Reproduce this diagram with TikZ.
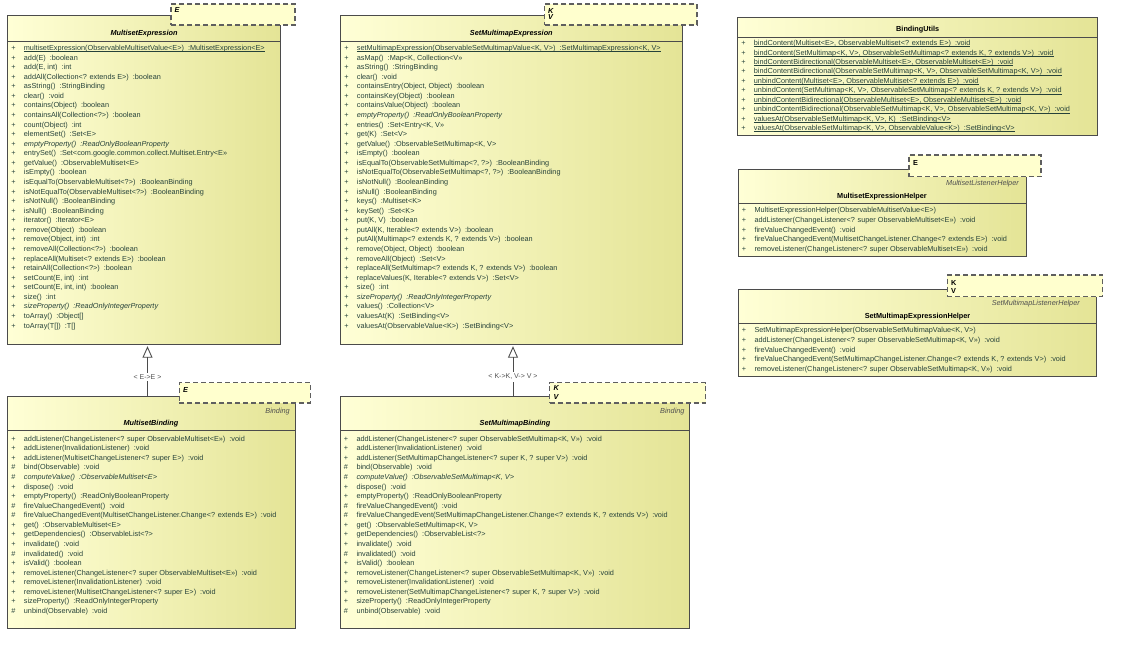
\documentclass[tikz,border=0pt]{standalone}
\usepackage{fontspec}
\setmainfont{Liberation Sans}
\usetikzlibrary{arrows.meta}
\definecolor{fillL}{RGB}{255,255,214}
\definecolor{fillM}{RGB}{250,250,195}
\definecolor{fillR}{RGB}{228,228,150}
\definecolor{tmplfill}{RGB}{255,255,206}
\definecolor{bordc}{RGB}{75,75,75}
\definecolor{dashc}{RGB}{95,95,95}
\definecolor{membc}{RGB}{38,66,58}
\definecolor{lblc}{RGB}{80,80,80}
\newcommand{\pub}{\makebox[8pt][c]{+}\hspace{6.5pt}}
\newcommand{\pro}{\makebox[8pt][c]{\#}\hspace{6.5pt}}
\newcommand{\mrows}[1]{\begin{tabular}[t]{@{}l@{}}#1\end{tabular}}
\newcommand{\uln}[1]{\setbox0\hbox{#1}\rlap{\rule[-1.3pt]{\wd0}{0.5pt}}\box0}
\tikzset{
  classbox/.style={draw=bordc, line width=1pt, left color=fillL, middle color=fillM, right color=fillR, anchor=north west, inner sep=0pt, outer sep=0pt},
  tmplbox/.style={draw=dashc, line width=1.1pt, dash pattern=on 5pt off 3pt, fill=tmplfill, anchor=north west, inner sep=0pt, outer sep=0pt},
  ctitle/.style={font=\fontsize{7.3}{9}\selectfont\bfseries\itshape, anchor=base, inner sep=0pt},
  htitle/.style={font=\fontsize{7.3}{9}\selectfont\bfseries, anchor=base, inner sep=0pt},
  members/.style={font=\fontsize{7.3}{9.57}\selectfont, text=membc, anchor=base west, inner sep=0pt},
  umembers/.style={font=\fontsize{7.3}{9.45}\selectfont, text=membc, anchor=base west, inner sep=0pt},
  tparam/.style={font=\fontsize{7.3}{8}\selectfont\bfseries\itshape, anchor=base west, inner sep=0pt},
  tparamu/.style={font=\fontsize{7.3}{8}\selectfont\bfseries, anchor=base west, inner sep=0pt},
  stereo/.style={font=\fontsize{7.3}{9}\selectfont\itshape, text=lblc, anchor=base east, inner sep=0pt},
  sepline/.style={draw=bordc, line width=0.9pt},
  inherit/.style={draw=bordc, line width=0.9pt, shorten >=1.5pt, -{Triangle[open, length=11.5pt, width=10pt, line width=0.9pt]}},
  inhlabel/.style={font=\fontsize{7}{8}\selectfont, text=lblc, fill=white, inner sep=2pt}
}
\begin{document}
\begin{tikzpicture}[x=1pt,y=-1pt]
\useasboundingbox[fill=white] (0,0) rectangle (1141,656);

% ---------------- MultisetExpression ----------------
\node[classbox, minimum width=272.6pt, minimum height=329pt] (mexpr) at (7.7,15.7) {};
\node[tmplbox, minimum width=124pt, minimum height=21pt] (mexprT) at (171,4) {};
\node[tparam] (mexprE) at (174.5,12.6) {E};
\node[ctitle] (mexprN) at (144,35) {MultisetExpression};
\draw[sepline] ([yshift=-25.6pt]mexpr.north west) -- ([yshift=-25.6pt]mexpr.north east);
\node[members] (mexprOps) at (9.2,50.5) {\mrows{%
\pub\uln{multisetExpression(ObservableMultisetValue<E>)~~:MultisetExpression<E>}\\
\pub add(E)~~:boolean\\
\pub add(E, int)~~:int\\
\pub addAll(Collection<? extends E>)~~:boolean\\
\pub asString()~~:StringBinding\\
\pub clear()~~:void\\
\pub contains(Object)~~:boolean\\
\pub containsAll(Collection<?>)~~:boolean\\
\pub count(Object)~~:int\\
\pub elementSet()~~:Set<E>\\
\pub \textit{emptyProperty()~~:ReadOnlyBooleanProperty}\\
\pub entrySet()~~:Set<com.google.common.collect.Multiset.Entry<E>>\\
\pub getValue()~~:ObservableMultiset<E>\\
\pub isEmpty()~~:boolean\\
\pub isEqualTo(ObservableMultiset<?>)~~:BooleanBinding\\
\pub isNotEqualTo(ObservableMultiset<?>)~~:BooleanBinding\\
\pub isNotNull()~~:BooleanBinding\\
\pub isNull()~~:BooleanBinding\\
\pub iterator()~~:Iterator<E>\\
\pub remove(Object)~~:boolean\\
\pub remove(Object, int)~~:int\\
\pub removeAll(Collection<?>)~~:boolean\\
\pub replaceAll(Multiset<? extends E>)~~:boolean\\
\pub retainAll(Collection<?>)~~:boolean\\
\pub setCount(E, int)~~:int\\
\pub setCount(E, int, int)~~:boolean\\
\pub size()~~:int\\
\pub \textit{sizeProperty()~~:ReadOnlyIntegerProperty}\\
\pub toArray()~~:Object[]\\
\pub toArray(T[])~~:T[]}};

% ---------------- SetMultimapExpression ----------------
\node[classbox, minimum width=341.3pt, minimum height=329pt] (smexpr) at (340.7,15.7) {};
\node[tmplbox, minimum width=152.3pt, minimum height=21pt] (smexprT) at (544.7,4) {};
\node[tparam] (smexprK) at (548,13.3) {K};
\node[tparam] (smexprV) at (548,19.5) {V};
\node[ctitle] (smexprN) at (511.3,35) {SetMultimapExpression};
\draw[sepline] ([yshift=-25.6pt]smexpr.north west) -- ([yshift=-25.6pt]smexpr.north east);
\node[members] (smexprOps) at (342.2,50.5) {\mrows{%
\pub\uln{setMultimapExpression(ObservableSetMultimapValue<K, V>)~~:SetMultimapExpression<K, V>}\\
\pub asMap()~~:Map<K, Collection<V>>\\
\pub asString()~~:StringBinding\\
\pub clear()~~:void\\
\pub containsEntry(Object, Object)~~:boolean\\
\pub containsKey(Object)~~:boolean\\
\pub containsValue(Object)~~:boolean\\
\pub \textit{emptyProperty()~~:ReadOnlyBooleanProperty}\\
\pub entries()~~:Set<Entry<K, V>>\\
\pub get(K)~~:Set<V>\\
\pub getValue()~~:ObservableSetMultimap<K, V>\\
\pub isEmpty()~~:boolean\\
\pub isEqualTo(ObservableSetMultimap<?, ?>)~~:BooleanBinding\\
\pub isNotEqualTo(ObservableSetMultimap<?, ?>)~~:BooleanBinding\\
\pub isNotNull()~~:BooleanBinding\\
\pub isNull()~~:BooleanBinding\\
\pub keys()~~:Multiset<K>\\
\pub keySet()~~:Set<K>\\
\pub put(K, V)~~:boolean\\
\pub putAll(K, Iterable<? extends V>)~~:boolean\\
\pub putAll(Multimap<? extends K, ? extends V>)~~:boolean\\
\pub remove(Object, Object)~~:boolean\\
\pub removeAll(Object)~~:Set<V>\\
\pub replaceAll(SetMultimap<? extends K, ? extends V>)~~:boolean\\
\pub replaceValues(K, Iterable<? extends V>)~~:Set<V>\\
\pub size()~~:int\\
\pub \textit{sizeProperty()~~:ReadOnlyIntegerProperty}\\
\pub values()~~:Collection<V>\\
\pub valuesAt(K)~~:SetBinding<V>\\
\pub valuesAt(ObservableValue<K>)~~:SetBinding<V>}};

% ---------------- MultisetBinding ----------------
\node[classbox, minimum width=287.3pt, minimum height=232pt] (mbind) at (7.7,396) {};
\node[tmplbox, minimum width=131pt, minimum height=20.3pt] (mbindT) at (179.3,382.7) {};
\node[tparam] (mbindE) at (182.8,392) {E};
\node[stereo] (mbindS) at (290,413.3) {Binding};
\node[ctitle] (mbindN) at (151,425.3) {MultisetBinding};
\draw[sepline] ([yshift=-34.7pt]mbind.north west) -- ([yshift=-34.7pt]mbind.north east);
\node[members] (mbindOps) at (9.2,441.2) {\mrows{%
\pub addListener(ChangeListener<? super ObservableMultiset<E>>)~~:void\\
\pub addListener(InvalidationListener)~~:void\\
\pub addListener(MultisetChangeListener<? super E>)~~:void\\
\pro bind(Observable)~~:void\\
\pro \textit{computeValue()~~:ObservableMultiset<E>}\\
\pub dispose()~~:void\\
\pub emptyProperty()~~:ReadOnlyBooleanProperty\\
\pro fireValueChangedEvent()~~:void\\
\pro fireValueChangedEvent(MultisetChangeListener.Change<? extends E>)~~:void\\
\pub get()~~:ObservableMultiset<E>\\
\pub getDependencies()~~:ObservableList<?>\\
\pub invalidate()~~:void\\
\pro invalidated()~~:void\\
\pub isValid()~~:boolean\\
\pub removeListener(ChangeListener<? super ObservableMultiset<E>>)~~:void\\
\pub removeListener(InvalidationListener)~~:void\\
\pub removeListener(MultisetChangeListener<? super E>)~~:void\\
\pub sizeProperty()~~:ReadOnlyIntegerProperty\\
\pro unbind(Observable)~~:void}};

% ---------------- SetMultimapBinding ----------------
\node[classbox, minimum width=349.4pt, minimum height=232pt] (smbind) at (340.3,396) {};
\node[tmplbox, minimum width=156pt, minimum height=20.3pt] (smbindT) at (549.7,382.7) {};
\node[tparam] (smbindK) at (553.4,390.6) {K};
\node[tparam] (smbindV) at (553.4,399.3) {V};
\node[stereo] (smbindS) at (684.7,413.3) {Binding};
\node[ctitle] (smbindN) at (515,425.3) {SetMultimapBinding};
\draw[sepline] ([yshift=-34.7pt]smbind.north west) -- ([yshift=-34.7pt]smbind.north east);
\node[members] (smbindOps) at (341.8,441.2) {\mrows{%
\pub addListener(ChangeListener<? super ObservableSetMultimap<K, V>>)~~:void\\
\pub addListener(InvalidationListener)~~:void\\
\pub addListener(SetMultimapChangeListener<? super K, ? super V>)~~:void\\
\pro bind(Observable)~~:void\\
\pro \textit{computeValue()~~:ObservableSetMultimap<K, V>}\\
\pub dispose()~~:void\\
\pub emptyProperty()~~:ReadOnlyBooleanProperty\\
\pro fireValueChangedEvent()~~:void\\
\pro fireValueChangedEvent(SetMultimapChangeListener.Change<? extends K, ? extends V>)~~:void\\
\pub get()~~:ObservableSetMultimap<K, V>\\
\pub getDependencies()~~:ObservableList<?>\\
\pub invalidate()~~:void\\
\pro invalidated()~~:void\\
\pub isValid()~~:boolean\\
\pub removeListener(ChangeListener<? super ObservableSetMultimap<K, V>>)~~:void\\
\pub removeListener(InvalidationListener)~~:void\\
\pub removeListener(SetMultimapChangeListener<? super K, ? super V>)~~:void\\
\pub sizeProperty()~~:ReadOnlyIntegerProperty\\
\pro unbind(Observable)~~:void}};

% ---------------- BindingUtils ----------------
\node[classbox, minimum width=360pt, minimum height=117.7pt] (butils) at (737.7,17.3) {};
\node[htitle] (butilsN) at (917.7,31) {BindingUtils};
\draw[sepline] ([yshift=-20pt]butils.north west) -- ([yshift=-20pt]butils.north east);
\node[umembers] (butilsOps) at (739.2,45.6) {\mrows{%
\pub\uln{bindContent(Multiset<E>, ObservableMultiset<? extends E>)~~:void}\\
\pub\uln{bindContent(SetMultimap<K, V>, ObservableSetMultimap<? extends K, ? extends V>)~~:void}\\
\pub\uln{bindContentBidirectional(ObservableMultiset<E>, ObservableMultiset<E>)~~:void}\\
\pub\uln{bindContentBidirectional(ObservableSetMultimap<K, V>, ObservableSetMultimap<K, V>)~~:void}\\
\pub\uln{unbindContent(Multiset<E>, ObservableMultiset<? extends E>)~~:void}\\
\pub\uln{unbindContent(SetMultimap<K, V>, ObservableSetMultimap<? extends K, ? extends V>)~~:void}\\
\pub\uln{unbindContentBidirectional(ObservableMultiset<E>, ObservableMultiset<E>)~~:void}\\
\pub\uln{unbindContentBidirectional(ObservableSetMultimap<K, V>, ObservableSetMultimap<K, V>)~~:void}\\
\pub\uln{valuesAt(ObservableSetMultimap<K, V>, K)~~:SetBinding<V>}\\
\pub\uln{valuesAt(ObservableSetMultimap<K, V>, ObservableValue<K>)~~:SetBinding<V>}}};

% ---------------- MultisetExpressionHelper ----------------
\node[classbox, minimum width=287.7pt, minimum height=87.4pt] (mhelper) at (738.3,169.3) {};
\node[tmplbox, minimum width=132pt, minimum height=21.7pt] (mhelperT) at (909,155) {};
\node[tparamu] (mhelperE) at (913,165.3) {E};
\node[stereo] (mhelperS) at (1019,185.9) {MultisetListenerHelper};
\node[htitle] (mhelperN) at (882,198.6) {MultisetExpressionHelper};
\draw[sepline] ([yshift=-34pt]mhelper.north west) -- ([yshift=-34pt]mhelper.north east);
\node[members] (mhelperOps) at (739.8,212.9) {\mrows{%
\pub MultisetExpressionHelper(ObservableMultisetValue<E>)\\
\pub addListener(ChangeListener<? super ObservableMultiset<E>>)~~:void\\
\pub fireValueChangedEvent()~~:void\\
\pub fireValueChangedEvent(MultisetChangeListener.Change<? extends E>)~~:void\\
\pub removeListener(ChangeListener<? super ObservableMultiset<E>>)~~:void}};

% ---------------- SetMultimapExpressionHelper ----------------
\node[classbox, minimum width=358.4pt, minimum height=87.4pt] (smhelper) at (738.3,289.3) {};
\node[tmplbox, minimum width=155.4pt, minimum height=21.7pt] (smhelperT) at (947.3,275) {};
\node[tparamu] (smhelperK) at (951,285.3) {K};
\node[tparamu] (smhelperV) at (951,293.5) {V};
\node[stereo] (smhelperS) at (1080,305.9) {SetMultimapListenerHelper};
\node[htitle] (smhelperN) at (917.5,318.6) {SetMultimapExpressionHelper};
\draw[sepline] ([yshift=-34pt]smhelper.north west) -- ([yshift=-34pt]smhelper.north east);
\node[members] (smhelperOps) at (739.8,332.9) {\mrows{%
\pub SetMultimapExpressionHelper(ObservableSetMultimapValue<K, V>)\\
\pub addListener(ChangeListener<? super ObservableSetMultimap<K, V>>)~~:void\\
\pub fireValueChangedEvent()~~:void\\
\pub fireValueChangedEvent(SetMultimapChangeListener.Change<? extends K, ? extends V>)~~:void\\
\pub removeListener(ChangeListener<? super ObservableSetMultimap<K, V>>)~~:void}};

% ---------------- Generalizations ----------------
\coordinate (g1) at (147.5,396);
\coordinate (g2) at (513,396);
\draw[inherit] (g1) -- node[inhlabel, pos=0.37] (g1L) {< E->E >} (g1 |- mexpr.south);
\draw[inherit] (g2) -- node[inhlabel, pos=0.37] (g2L) {< K->K, V-> V >} (g2 |- smexpr.south);
\end{tikzpicture}
\end{document}
